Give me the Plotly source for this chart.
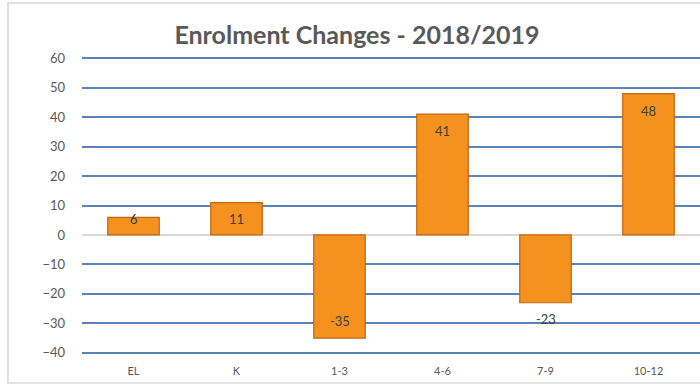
import plotly.graph_objects as go

# Enrolment change per grade band, 2018 -> 2019
grades = ["EL", "K", "1-3", "4-6", "7-9", "10-12"]
changes = [6, 11, -35, 41, -23, 48]
y_ticks = [-40, -30, -20, -10, 0, 10, 20, 30, 40, 50, 60]

# grade bands whose value label sits just outside the bar end
outside_labels = {"7-9"}

W, H = 700, 387
ML, MR, MT, MB = 82, 0, 57, 33
Y_MIN, Y_MAX = -40, 60
PLOT_W = W - ML - MR
PLOT_H = H - MT - MB
px_per_unit = PLOT_H / (Y_MAX - Y_MIN)

FONT = "Lato, 'Open Sans', sans-serif"
GRID = "#5a84b8"
TEXT = "#595959"

fig = go.Figure()
fig.add_trace(go.Bar(
    x=grades,
    y=changes,
    marker=dict(color="#f5921f", line=dict(color="#c4650f", width=1.2)),
    width=0.5,
    hoverinfo="x+y",
))

# value labels near the end of each bar
for g, v in zip(grades, changes):
    bar_px = abs(v) * px_per_unit
    if g in outside_labels:
        shift = 16
    else:
        shift = -min(17, max(2, bar_px - 16))
    sign = 1 if v >= 0 else -1
    fig.add_annotation(
        x=g, y=v, text=str(v), showarrow=False,
        yshift=sign * shift,
        font=dict(family=FONT, size=13, color="#404040"),
    )

# outer chart frame (left, top and bottom edges; the right edge lies past the page)
frame_left = (8 - ML) / PLOT_W
frame_right = (715 - ML) / PLOT_W
frame_top = 1 + (MT - 3) / PLOT_H
frame_bottom = -(383 - (H - MB)) / PLOT_H
fig.add_shape(
    type="rect", xref="paper", yref="paper",
    x0=frame_left, x1=frame_right, y0=frame_bottom, y1=frame_top,
    line=dict(color="#d9d9d9", width=1.5),
    fillcolor="rgba(0,0,0,0)",
    layer="above",
)

fig.update_layout(
    width=W, height=H,
    margin=dict(l=ML, r=MR, t=MT, b=MB),
    paper_bgcolor="white",
    plot_bgcolor="white",
    showlegend=False,
    title=dict(
        text="<b>Enrolment Changes - 2018/2019</b>",
        x=357 / W, xanchor="center", xref="container",
        y=1 - 35 / H, yanchor="middle", yref="container",
        font=dict(family=FONT, size=25, color=TEXT),
    ),
    xaxis=dict(
        type="category",
        showgrid=False, showline=False, zeroline=False,
        ticks="", ticklabelstandoff=9,
        tickfont=dict(family=FONT, size=11, color=TEXT),
    ),
    yaxis=dict(
        range=[Y_MIN - 0.4, Y_MAX + 0.4],
        tickvals=y_ticks,
        showgrid=True, gridcolor=GRID, gridwidth=1.6,
        zeroline=True, zerolinecolor="#d9d9d9", zerolinewidth=1.6,
        showline=False, ticks="", ticklabelstandoff=16,
        tickfont=dict(family=FONT, size=13, color=TEXT),
    ),
)

fig.write_html("out.html")
